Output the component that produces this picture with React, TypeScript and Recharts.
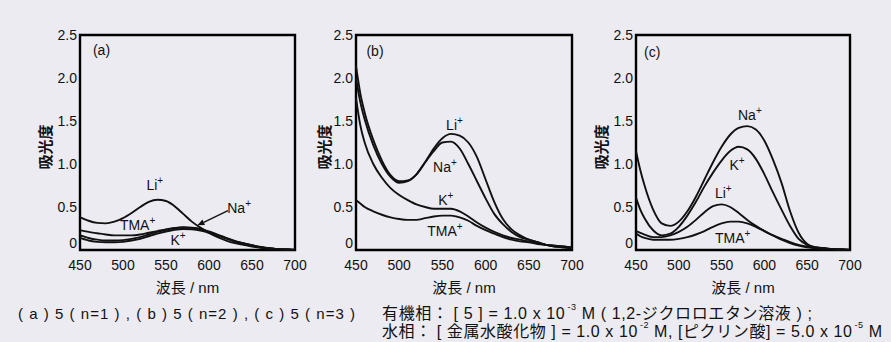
import React from 'react';
import { LineChart, Line, XAxis, YAxis, ReferenceArea, ReferenceDot, ReferenceLine } from 'recharts';

const FONT = "'Liberation Sans', 'Noto Sans CJK JP', Arial, sans-serif";
const BG = '#edebf2';
const INK = '#111';

const wavelengths = [450, 455, 460, 470, 480, 490, 500, 510, 520, 530, 540, 550, 560, 570, 580, 590, 600, 610, 620, 630, 640, 650, 660, 670, 680, 690, 700];
const xTicks = [450, 500, 550, 600, 650, 700];
const yTicks = [0, 0.5, 1.0, 1.5, 2.0, 2.5];

// Panel (a) 5 (n=1)
const liA = [0.38, 0.36, 0.34, 0.315, 0.31, 0.33, 0.37, 0.43, 0.5, 0.56, 0.585, 0.57, 0.51, 0.42, 0.33, 0.26, 0.2, 0.15, 0.11, 0.08, 0.06, 0.04, 0.025, 0.015, 0.01, 0.005, 0];
const naA = [0.17, 0.155, 0.14, 0.12, 0.11, 0.11, 0.115, 0.13, 0.15, 0.18, 0.21, 0.235, 0.255, 0.265, 0.26, 0.245, 0.215, 0.18, 0.14, 0.105, 0.08, 0.055, 0.035, 0.02, 0.01, 0.005, 0];
const kA = [0.14, 0.125, 0.11, 0.095, 0.09, 0.09, 0.095, 0.11, 0.13, 0.16, 0.19, 0.215, 0.235, 0.245, 0.24, 0.225, 0.2, 0.17, 0.135, 0.1, 0.075, 0.05, 0.03, 0.018, 0.01, 0.005, 0];
const tmaA = [0.23, 0.22, 0.21, 0.195, 0.18, 0.17, 0.17, 0.17, 0.18, 0.2, 0.22, 0.24, 0.255, 0.26, 0.255, 0.24, 0.21, 0.17, 0.135, 0.1, 0.075, 0.055, 0.035, 0.02, 0.01, 0.005, 0];

// Panel (b) 5 (n=2)
const liB = [2.14, 1.82, 1.6, 1.28, 1.04, 0.87, 0.8, 0.81, 0.88, 1.02, 1.18, 1.3, 1.35, 1.33, 1.25, 1.08, 0.82, 0.56, 0.36, 0.24, 0.17, 0.12, 0.09, 0.06, 0.04, 0.03, 0.02];
const naB = [2.0, 1.72, 1.52, 1.22, 1.0, 0.85, 0.78, 0.8, 0.88, 1.02, 1.15, 1.25, 1.26, 1.18, 1.0, 0.8, 0.6, 0.42, 0.3, 0.21, 0.15, 0.12, 0.09, 0.06, 0.04, 0.03, 0.02];
const kB = [1.77, 1.45, 1.25, 1.0, 0.84, 0.72, 0.64, 0.58, 0.53, 0.5, 0.48, 0.48, 0.48, 0.45, 0.39, 0.32, 0.26, 0.21, 0.17, 0.14, 0.12, 0.1, 0.08, 0.06, 0.05, 0.04, 0.03];
const tmaB = [0.58, 0.54, 0.5, 0.45, 0.41, 0.38, 0.36, 0.35, 0.35, 0.37, 0.39, 0.4, 0.4, 0.38, 0.34, 0.28, 0.23, 0.19, 0.15, 0.12, 0.1, 0.09, 0.07, 0.06, 0.05, 0.04, 0.03];

// Panel (c) 5 (n=3)
const naC = [1.15, 0.93, 0.75, 0.47, 0.31, 0.28, 0.33, 0.45, 0.62, 0.82, 1.02, 1.2, 1.34, 1.42, 1.44, 1.4, 1.27, 1.05, 0.78, 0.45, 0.2, 0.07, 0.03, 0.02, 0.01, 0.005, 0];
const kC = [0.61, 0.47, 0.37, 0.23, 0.17, 0.19, 0.27, 0.4, 0.56, 0.74, 0.9, 1.04, 1.15, 1.2, 1.17, 1.06, 0.88, 0.67, 0.47, 0.28, 0.13, 0.06, 0.03, 0.02, 0.01, 0.005, 0];
const liC = [0.22, 0.2, 0.18, 0.15, 0.15, 0.17, 0.21, 0.27, 0.35, 0.44, 0.51, 0.53, 0.5, 0.43, 0.35, 0.28, 0.22, 0.17, 0.12, 0.08, 0.05, 0.03, 0.02, 0.01, 0.01, 0.005, 0];
const tmaC = [0.19, 0.16, 0.14, 0.12, 0.12, 0.12, 0.13, 0.15, 0.18, 0.22, 0.27, 0.31, 0.33, 0.33, 0.31, 0.27, 0.22, 0.17, 0.13, 0.09, 0.06, 0.04, 0.03, 0.02, 0.01, 0.005, 0];

// Annotation labels (text, superscript, wavelength, absorbance)
const labelsA = [
  { t: '(a)', s: '', x: 475, y: 2.33 },
  { t: 'Li', s: '+', x: 537, y: 0.76 },
  { t: 'TMA', s: '+', x: 517, y: 0.29 },
  { t: 'K', s: '+', x: 564, y: 0.12 },
  { t: 'Na', s: '+', x: 635, y: 0.485 },
];
const labelsB = [
  { t: '(b)', s: '', x: 472, y: 2.31 },
  { t: 'Li', s: '+', x: 564, y: 1.45 },
  { t: 'Na', s: '+', x: 553, y: 0.96 },
  { t: 'K', s: '+', x: 554, y: 0.58 },
  { t: 'TMA', s: '+', x: 553, y: 0.22 },
];
const labelsC = [
  { t: '(c)', s: '', x: 469, y: 2.3 },
  { t: 'Na', s: '+', x: 583, y: 1.57 },
  { t: 'K', s: '+', x: 568, y: 0.99 },
  { t: 'Li', s: '+', x: 552, y: 0.66 },
  { t: 'TMA', s: '+', x: 563, y: 0.14 },
];
const arrowA = [{ x: 622, y: 0.457 }, { x: 586.5, y: 0.287 }];

const seriesKeys = ['Li', 'Na', 'K', 'TMA'];

const build = (li: number[], na: number[], k: number[], tma: number[]) =>
  wavelengths.map((w, i) => ({ w, Li: li[i], Na: na[i], K: k[i], TMA: tma[i] }));

const dataA = build(liA, naA, kA, tmaA);
const dataB = build(liB, naB, kB, tmaB);
const dataC = build(liC, naC, kC, tmaC);

const fmtY = (v: number) => (v === 0 ? '0' : v.toFixed(1));

const YTick = (props: any) => {
  const { x, y, payload } = props;
  const shift = payload.value === 0 ? -7 : 0;
  return (
    <text x={x} y={y + shift} textAnchor="end" dominantBaseline="central" fontSize={14} fill={INK} fontFamily={FONT}>
      {fmtY(payload.value)}
    </text>
  );
};

const IonText = ({ cx, cy, t, s }: any) => (
  <text x={cx} y={cy} textAnchor="middle" dominantBaseline="central" fontSize={14} fill={INK} fontFamily={FONT}>
    {t}
    {s ? (
      <tspan dy={-5} fontSize={10}>
        {s}
      </tspan>
    ) : null}
  </text>
);

const ArrowShape = (p: any) => {
  const { x1, y1, x2, y2 } = p;
  if ([x1, y1, x2, y2].some((v) => typeof v !== 'number' || isNaN(v))) return null;
  const dx = x2 - x1;
  const dy = y2 - y1;
  const len = Math.sqrt(dx * dx + dy * dy) || 1;
  const ux = dx / len;
  const uy = dy / len;
  const hl = 7;
  const hw = 3;
  const bx = x2 - ux * hl;
  const by = y2 - uy * hl;
  const pts = `${x2},${y2} ${bx - uy * hw},${by + ux * hw} ${bx + uy * hw},${by - ux * hw}`;
  return (
    <g>
      <line x1={x1} y1={y1} x2={bx} y2={by} stroke={INK} strokeWidth={1.4} />
      <polygon points={pts} fill={INK} />
    </g>
  );
};

type PanelProps = {
  left: number;
  width: number;
  data: any[];
  labels: { t: string; s: string; x: number; y: number }[];
  arrow?: { x: number; y: number }[];
};

const Panel = ({ left, width, data, labels, arrow }: PanelProps) => (
  <div style={{ position: 'absolute', left, top: 0 }}>
    <LineChart width={width} height={300} data={data} margin={{ top: 35, right: 18, bottom: 20, left: 0 }}>
      <XAxis
        dataKey="w"
        type="number"
        domain={[450, 700]}
        ticks={xTicks}
        tickLine={false}
        axisLine={false}
        tickSize={0}
        tickMargin={10}
        height={30}
        interval={0}
        tick={{ fontSize: 14, fill: INK, fontFamily: FONT }}
      />
      <YAxis
        type="number"
        domain={[0, 2.5]}
        ticks={yTicks}
        width={80}
        tickLine={false}
        axisLine={false}
        tickSize={0}
        tickMargin={3}
        interval={0}
        tick={(p: any) => <YTick {...p} />}
      />
      {seriesKeys.map((k) => (
        <Line key={k} dataKey={k} type="monotone" stroke={INK} strokeWidth={1.9} dot={false} isAnimationActive={false} />
      ))}
      <ReferenceArea x1={450} x2={700} y1={0} y2={2.5} fill="none" stroke="#000" strokeWidth={2.4} ifOverflow="visible" />
      {labels.map((l, i) => (
        <ReferenceDot
          key={i}
          x={l.x}
          y={l.y}
          r={0}
          ifOverflow="visible"
          shape={(p: any) => <IonText cx={p.cx} cy={p.cy} t={l.t} s={l.s} />}
        />
      ))}
      {arrow ? <ReferenceLine segment={arrow} ifOverflow="visible" shape={(p: any) => <ArrowShape {...p} />} /> : null}
    </LineChart>
  </div>
);

const textStyle = { fontFamily: FONT, fill: INK } as const;

export default function App() {
  return (
    <div style={{ position: 'absolute', left: 0, top: 0, width: 891, height: 342, background: BG, overflow: 'hidden' }}>
      <Panel left={0} width={313} data={dataA} labels={labelsA} arrow={arrowA} />
      <Panel left={276} width={314} data={dataB} labels={labelsB} />
      <Panel left={556} width={312} data={dataC} labels={labelsC} />
      <svg width={891} height={342} style={{ position: 'absolute', left: 0, top: 0, pointerEvents: 'none' }}>
        {[45, 324, 601].map((x, i) => (
          <text key={'yl' + i} x={x} y={147} transform={`rotate(-90, ${x}, 147)`} textAnchor="middle" dominantBaseline="central" fontSize={15} fontWeight="bold" {...textStyle}>
            吸光度
          </text>
        ))}
        {[187.5, 464, 743].map((x, i) => (
          <text key={'xl' + i} x={x} y={287} textAnchor="middle" dominantBaseline="central" fontSize={15} {...textStyle}>
            波長 / nm
          </text>
        ))}
        <text x={18} y={313} dominantBaseline="central" fontSize={15} textLength={337} {...textStyle}>
          ( a ) 5 ( n=1 ) , ( b ) 5 ( n=2 ) , ( c ) 5 ( n=3 )
        </text>
        <text x={382} y={313} dominantBaseline="central" fontSize={16} textLength={430} {...textStyle}>
          有機相： [ 5 ] = 1.0 x 10
          <tspan dx={2} dy={-6} fontSize={9}>-3</tspan>
          <tspan dy={6}> M ( 1,2-ジクロロエタン溶液 ) ;</tspan>
        </text>
        <text x={382} y={331} dominantBaseline="central" fontSize={16} textLength={500} {...textStyle}>
          水相： [ 金属水酸化物 ] = 1.0 x 10
          <tspan dx={2} dy={-6} fontSize={9}>-2</tspan>
          <tspan dy={6}> M, [ピクリン酸] = 5.0 x 10</tspan>
          <tspan dx={2} dy={-6} fontSize={9}>-5</tspan>
          <tspan dy={6}> M</tspan>
        </text>
      </svg>
    </div>
  );
}
